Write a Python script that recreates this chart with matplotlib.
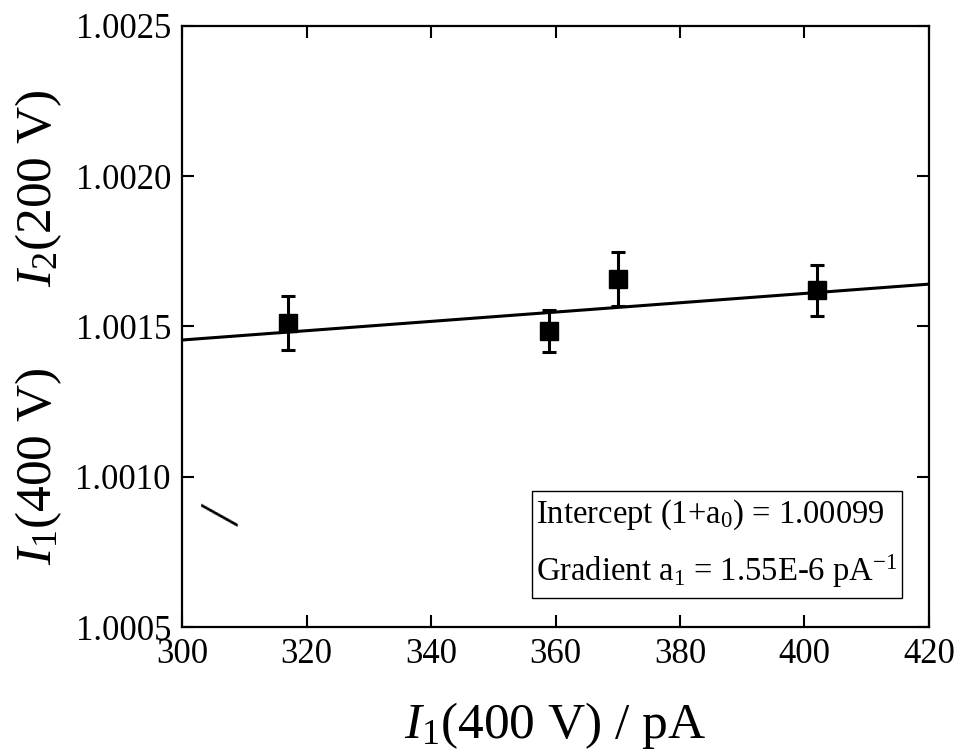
import matplotlib
matplotlib.use("Agg")
import matplotlib.pyplot as plt
import numpy as np

plt.rcParams['font.family'] = ['Liberation Serif', 'DejaVu Serif']
plt.rcParams['mathtext.fontset'] = 'custom'
plt.rcParams['mathtext.rm'] = 'Liberation Serif'
plt.rcParams['mathtext.it'] = 'Liberation Serif:italic'

# measured current ratios
current_pa = [317, 359, 370, 402]
ratio = [1.001512, 1.001485, 1.001657, 1.00162]
ratio_err = [0.00009, 0.00007, 0.00009, 0.000085]

intercept = 1.00099
gradient = 1.55e-6

fig = plt.figure(figsize=(9.6, 7.51), dpi=100)
ax = fig.add_axes([0.1896, 0.1651, 0.7781, 0.8003])

x_fit = np.array([300, 420])
ax.plot(x_fit, intercept + gradient * x_fit, color='black', lw=2.2)
ax.errorbar(current_pa, ratio, yerr=ratio_err, fmt='s', color='black',
            ms=13.5, elinewidth=2.2, capsize=5, capthick=2.2)

ax.set_xlim(300, 420)
ax.set_ylim(1.0005, 1.0025)
ax.set_xticks(np.arange(300, 421, 20))
ax.set_yticks([1.0005, 1.0010, 1.0015, 1.0020, 1.0025])
ax.set_yticklabels(['1.0005', '1.0010', '1.0015', '1.0020', '1.0025'])
ax.tick_params(direction='in', length=8.5, width=1.5, labelsize=25,
               top=True, right=True, pad=8)
for s in ax.spines.values():
    s.set_linewidth(1.6)

ax.set_xlabel(r'$I_{1}$(400 V) / pA', fontsize=37, labelpad=21)

# y label drawn in pieces
fig.text(0.040, 1 - 188 / 751, r'$I_{2}$(200 V)', rotation=90,
         fontsize=37, ha='center', va='center')
fig.text(0.040, 1 - 466 / 751, r'$I_{1}$(400 V)', rotation=90,
         fontsize=37, ha='center', va='center')
fig.text(225 / 960, 1 - 515 / 751, '/', rotation=80,
         fontsize=43, ha='center', va='center')

# fit results box
box = plt.Rectangle((0.4685, 0.0483), 0.4954, 0.178, transform=ax.transAxes,
                    fill=False, edgecolor='black', lw=1.0)
ax.add_patch(box)
ax.text(0.4745, 0.173, r'Intercept (1+a$_{0}$) = 1.00099', transform=ax.transAxes,
        fontsize=23.5, ha='left', va='baseline')
ax.text(0.4745, 0.0765, r'Gradient a$_{1}$ = 1.55E-6 pA$^{-1}$', transform=ax.transAxes,
        fontsize=23.5, ha='left', va='baseline')

fig.savefig('out.png', dpi=100)
